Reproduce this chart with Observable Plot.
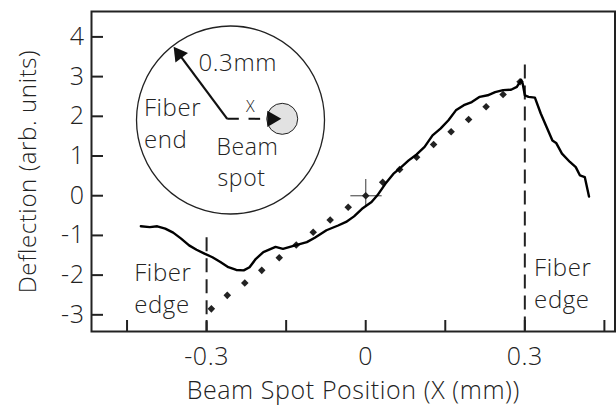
<!DOCTYPE html>
<html><head>
<meta charset="utf-8">
<script src="https://cdn.jsdelivr.net/npm/d3@7"></script>
<script src="https://cdn.jsdelivr.net/npm/@observablehq/plot@0.6"></script>
<style>body{margin:0;background:#fff} svg{display:block}</style>
</head><body><div id="chart"></div>
<script>
// measured deflection trace (mm, arb. units)
const traceX = [-0.424,-0.407,-0.393,-0.378,-0.363,-0.348,-0.333,-0.319,-0.304,-0.289,-0.274,-0.259,-0.244,-0.230,-0.219,-0.207,-0.193,-0.170,-0.156,-0.133,-0.111,-0.096,-0.074,-0.052,-0.037,-0.022,-0.007,0.011,0.022,0.037,0.052,0.067,0.081,0.096,0.111,0.126,0.141,0.156,0.170,0.185,0.200,0.215,0.230,0.244,0.259,0.274,0.285,0.293,0.296,0.300,0.307,0.319,0.330,0.341,0.352,0.359,0.370,0.385,0.396,0.404,0.413,0.421];
const traceY = [-0.77,-0.79,-0.77,-0.83,-0.93,-1.08,-1.25,-1.36,-1.46,-1.55,-1.67,-1.80,-1.87,-1.88,-1.80,-1.59,-1.42,-1.29,-1.34,-1.25,-1.17,-1.06,-0.87,-0.75,-0.66,-0.52,-0.33,-0.16,0.01,0.30,0.55,0.72,0.89,1.04,1.23,1.52,1.69,1.90,2.15,2.28,2.36,2.49,2.53,2.61,2.66,2.67,2.74,2.92,2.82,2.53,2.49,2.47,2.07,1.73,1.39,1.33,1.06,0.85,0.72,0.51,0.47,-0.02];
// dotted model points
const modelX = [-0.291,-0.261,-0.228,-0.196,-0.163,-0.131,-0.099,-0.067,-0.033,0,0.032,0.064,0.096,0.128,0.161,0.194,0.227,0.259,0.291];
const modelY = [-2.85,-2.51,-2.20,-1.88,-1.56,-1.24,-0.92,-0.61,-0.29,0,0.34,0.66,0.97,1.29,1.61,1.92,2.24,2.55,2.87];
// axes
const xDomain = [-0.517, 0.47];
const yDomain = [-3.42, 4.64];
const xTickValues = [-0.45,-0.3,-0.15,0,0.15,0.3,0.45];
const xTickLabels = {"-0.3":"-0.3","0":"0","0.3":"0.3"};
const yTickValues = [-3,-2,-1,0,1,2,3,4];
// fiber edges
const edgeX = [-0.3, 0.3];
const edgeTop = [-1.06, 3.29];
// zero-point cross
const crossX = [-0.028, 0.031];
const crossY = [-0.29, 0.41];
// inset diagram (data units)
const insetCircle = {x: -0.2549, y: 1.907};
const insetCorner = {x: -0.2611, y: 1.937};
const insetHeadUp = {x: -0.352, y: 3.567};
const insetDashEnd = {x: -0.187, y: 1.937};
const insetHeadRight = {x: -0.1767, y: 1.937};
const beamSpot = {x: -0.1574, y: 1.937};
const insetTexts = [
  {t: "0.3mm", x: -0.3153, y: 3.33},
  {t: "Fiber", x: -0.4182, y: 2.196},
  {t: "end", x: -0.4182, y: 1.39}
];
const insetBeamTexts = [
  {t: "Beam", x: -0.2813, y: 1.214},
  {t: "spot", x: -0.2794, y: 0.433}
];
const insetX = [{t: "X", x: -0.2172, y: 2.229}];
const edgeTexts = [
  {t: "Fiber", x: -0.4365, y: -1.96},
  {t: "edge", x: -0.4365, y: -2.76},
  {t: "Fiber", x: 0.3175, y: -1.834},
  {t: "edge", x: 0.3175, y: -2.645}
];

const trace = traceX.map((x, i) => ({x, y: traceY[i]}));
const model = modelX.map((x, i) => ({x, y: modelY[i]}));
const FONT = "'Open Sans', 'Noto Sans', sans-serif";
const FS = 24;

const chart = Plot.plot({
  width: 616, height: 411,
  marginLeft: 91, marginRight: 1.5, marginTop: 11, marginBottom: 80,
  style: {fontFamily: FONT, fontSize: FS + "px", fontWeight: 300, letterSpacing: "0.6px", color: "#222", background: "#fff"},
  x: {domain: xDomain},
  y: {domain: yDomain},
  marks: [
    Plot.axisX({ticks: xTickValues, tickSize: -11, tickPadding: 27, strokeWidth: 2,
      tickFormat: d => xTickLabels[String(d)] ?? "", label: null, fontSize: 25}),
    Plot.axisY({ticks: yTickValues, tickSize: -12, tickPadding: 19, strokeWidth: 2,
      tickFormat: d => String(d), label: null, fontSize: 25}),
    Plot.text(["Beam Spot Position (X (mm))"], {frameAnchor: "bottom", dy: 67, fontSize: 25}),
    Plot.text(["Deflection (arb. units)"], {frameAnchor: "left", textAnchor: "middle", rotate: -90, dx: -63.5, dy: 0, fontSize: 24}),
    // inset
    Plot.dot([insetCircle], {x: "x", y: "y", r: 94, stroke: "#222", strokeWidth: 1.3, fill: "none"}),
    Plot.link([{a: insetCorner, b: insetHeadUp}], {x1: d => d.a.x, y1: d => d.a.y, x2: d => d.b.x, y2: d => d.b.y, stroke: "#111", strokeWidth: 2.2}),
    Plot.dot([insetHeadUp], {x: "x", y: "y", symbol: "triangle", r: 5.8, fill: "#111", stroke: "none", rotate: -36.7}),
    Plot.link([{a: insetCorner, b: insetDashEnd}], {x1: d => d.a.x, y1: d => d.a.y, x2: d => d.b.x, y2: d => d.b.y, stroke: "#111", strokeWidth: 2, strokeDasharray: "11.6,9.7"}),
    Plot.dot([beamSpot], {x: "x", y: "y", r: 15.5, fill: "#e2e2e2", stroke: "#222", strokeWidth: 1}),
    Plot.dot([insetHeadRight], {x: "x", y: "y", symbol: "triangle", r: 6, fill: "#111", stroke: "none", rotate: 90}),
    Plot.text(insetTexts, {x: "x", y: "y", text: "t", textAnchor: "start", fontSize: FS, fill: "#222"}),
    Plot.text(insetBeamTexts, {x: "x", y: "y", text: "t", textAnchor: "start", fontSize: 23, fill: "#222"}),
    Plot.text(insetX, {x: "x", y: "y", text: "t", textAnchor: "middle", fontSize: 16, fill: "#222"}),
    // edges
    Plot.ruleX(edgeX, {x: d => d, y1: (d, i) => edgeTop[i], y2: yDomain[0], stroke: "#222", strokeWidth: 2, strokeDasharray: "14,7"}),
    Plot.text(edgeTexts, {x: "x", y: "y", text: "t", textAnchor: "start", fontSize: FS, fill: "#222"}),
    // cross
    Plot.ruleY([0], {x1: crossX[0], x2: crossX[1], stroke: "#666", strokeWidth: 1.3}),
    Plot.ruleX([0], {y1: crossY[0], y2: crossY[1], stroke: "#666", strokeWidth: 1.3}),
    // data
    Plot.dot(model, {x: "x", y: "y", symbol: "diamond2", r: 3.4, fill: "#222", stroke: "none"}),
    Plot.line(trace, {x: "x", y: "y", stroke: "#000", strokeWidth: 2.4, strokeLinejoin: "round"}),
    Plot.frame({stroke: "#222", strokeWidth: 2})
  ]
});
document.getElementById("chart").appendChild(chart);
</script>
</body></html>
